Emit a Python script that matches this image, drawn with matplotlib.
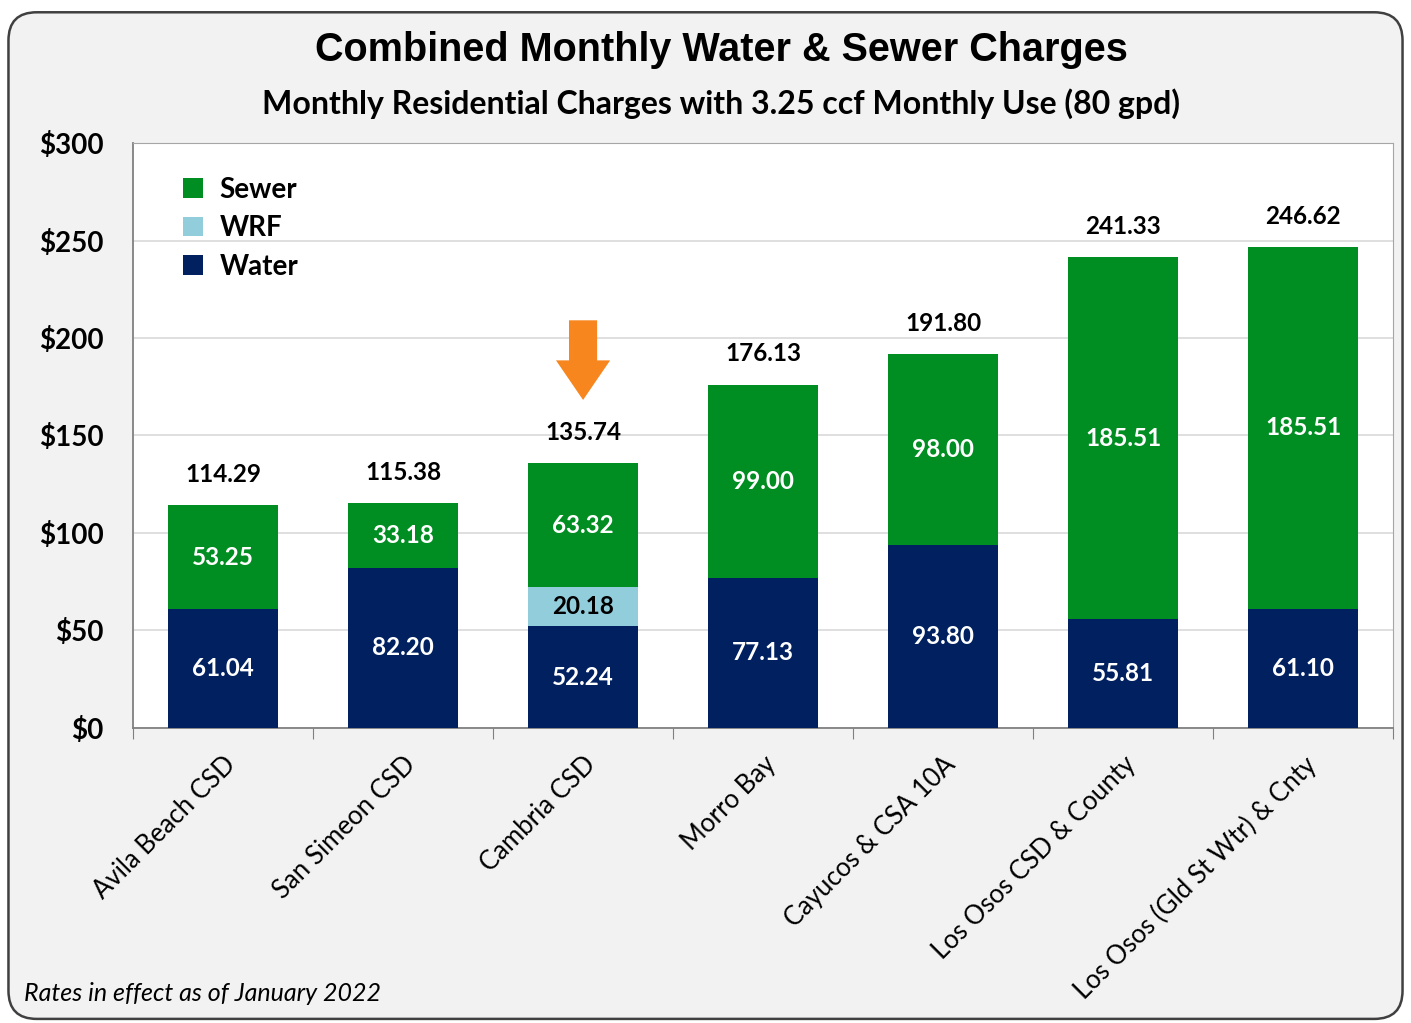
import matplotlib.pyplot as plt
from matplotlib.patches import FancyBboxPatch
import numpy as np

# Данные
districts = ['Avila Beach CSD', 'San Simeon CSD', 'Cambria CSD', 'Morro Bay',
             'Cayucos & CSA 10A', 'Los Osos CSD & County', 'Los Osos (Gld St Wtr) & Cnty']
water = [61.04, 82.20, 52.24, 77.13, 93.80, 55.81, 61.10]
wrf = [0, 0, 20.18, 0, 0, 0, 0]
sewer = [53.25, 33.18, 63.32, 99.00, 98.00, 185.51, 185.51]
totals = [114.29, 115.38, 135.74, 176.13, 191.80, 241.33, 246.62]
y_ticks = [0, 50, 100, 150, 200, 250, 300]

c_water = '#002060'
c_wrf = '#92CDDC'
c_sewer = '#008E22'
font = 'Lato'

plt.rcParams['font.family'] = [font, 'DejaVu Sans']

fig = plt.figure(figsize=(14.11, 10.23), dpi=100, facecolor='white')

# Фон с закруглёнными углами
bg = FancyBboxPatch((0.006, 0.004), 0.988, 0.984, boxstyle='round,pad=0,rounding_size=0.02',
                    transform=fig.transFigure, facecolor='#F2F2F2', edgecolor='#404040',
                    linewidth=1.8, mutation_aspect=1411 / 1023, zorder=-5)
fig.patches.append(bg)

ax = fig.add_axes([0.0943, 0.2884, 0.8930, 0.5718])
ax.set_facecolor('white')

x = np.arange(len(districts))
w = 0.61
wrf_bottom = np.array(water)
sewer_bottom = np.array(water) + np.array(wrf)

ax.bar(x, water, w, color=c_water, label='Water', zorder=3)
ax.bar(x, wrf, w, bottom=wrf_bottom, color=c_wrf, label='WRF', zorder=3)
ax.bar(x, sewer, w, bottom=sewer_bottom, color=c_sewer, label='Sewer', zorder=3)

# Подписи внутри сегментов
lbl = 17.5
for i in range(len(x)):
    ax.text(x[i], water[i] / 2, f'{water[i]:.2f}', ha='center', va='center',
            color='white', fontsize=lbl, fontweight='bold', zorder=4)
    if wrf[i] > 0:
        ax.text(x[i], wrf_bottom[i] + wrf[i] / 2, f'{wrf[i]:.2f}', ha='center', va='center',
                color='black', fontsize=lbl, fontweight='bold', zorder=4)
    ax.text(x[i], sewer_bottom[i] + sewer[i] / 2, f'{sewer[i]:.2f}', ha='center', va='center',
            color='white', fontsize=lbl, fontweight='bold', zorder=4)
    ax.annotate(f'{totals[i]:.2f}', (x[i], totals[i]), xytext=(0, 22), textcoords='offset points',
                ha='center', va='center', fontsize=lbl, fontweight='bold', color='black')

# Стрелка над Cambria
ax.annotate('', xy=(2, 166.8), xytext=(2, 210.5),
            arrowprops=dict(arrowstyle='simple,head_width=2.6,head_length=1.9,tail_width=1.35',
                            color='#F7861F', lw=0, mutation_scale=15))

ax.set_xlim(-0.5, len(districts) - 0.5)
ax.set_ylim(0, 300)
ax.set_yticks(y_ticks)
ax.set_yticklabels([f'${v}' for v in y_ticks], fontsize=20, fontweight='bold')
ax.tick_params(axis='y', length=0, pad=21)
ax.set_xticks(np.arange(-0.5, len(districts)), minor=False)
ax.set_xticklabels([])
ax.set_xticks(x, minor=True)
ax.set_xticklabels(districts, minor=True, rotation=45, ha='right', rotation_mode='anchor',
                   fontsize=18.5)
ax.tick_params(axis='x', which='major', length=8, color='#808080', direction='out')
ax.tick_params(axis='x', which='minor', length=0, pad=17)
ax.yaxis.grid(True, color='#D9D9D9', linewidth=1.2, zorder=0)
ax.set_axisbelow(True)
for side in ['top', 'right']:
    ax.spines[side].set_color('#A6A6A6')
for side in ['left', 'bottom']:
    ax.spines[side].set_color('#808080')
    ax.spines[side].set_linewidth(1.3)

handles, labels = ax.get_legend_handles_labels()
leg = ax.legend(handles[::-1], labels[::-1], loc='upper left', bbox_to_anchor=(0.02, 0.985),
                frameon=False, prop={'family': font, 'weight': 'bold', 'size': 20},
                handlelength=0.7, handleheight=0.7, handletextpad=0.6, labelspacing=0.45)

fig.text(0.511, 0.951, 'Combined Monthly Water & Sewer Charges', ha='center', va='center',
         fontsize=28.5, fontweight='bold', family='Liberation Sans')
fig.text(0.511, 0.899, 'Monthly Residential Charges with 3.25 ccf Monthly Use (80 gpd)',
         ha='center', va='center', fontsize=23, fontweight='bold')
fig.text(0.017, 0.029, 'Rates in effect as of January 2022', ha='left', va='center',
         fontsize=18, style='italic')

fig.savefig('out.png', dpi=100, facecolor='white')
